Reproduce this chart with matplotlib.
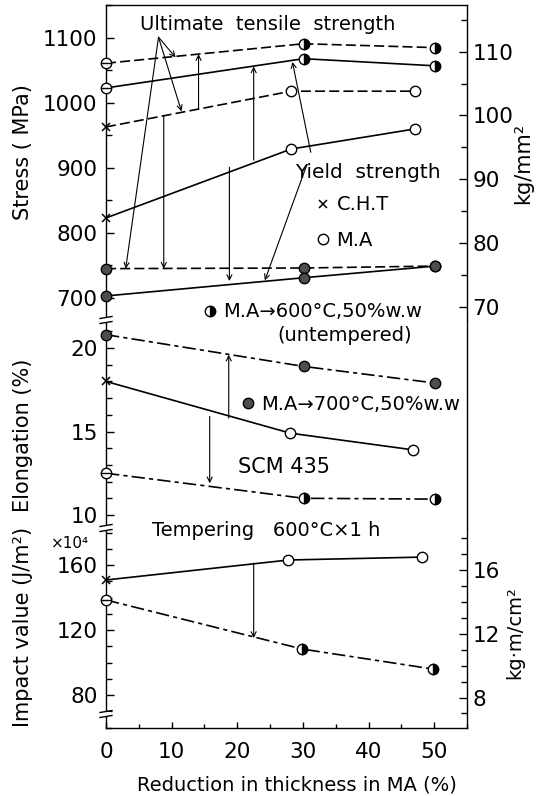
import matplotlib
matplotlib.use('Agg')
import matplotlib.pyplot as plt
from matplotlib.lines import Line2D
from matplotlib.patches import Rectangle
from matplotlib.ticker import MultipleLocator

KG = 9.80665  # MPa per kg/mm2, and 1e4 J/m2 per kg.m/cm2

# reduction in thickness (%) ; first point of every series is at 0 (C.H.T / base)
x_ma = [0, 28.2, 47.1]
x_ww = [0, 30.1, 50.2]

# stress (MPa)
uts_ma = [963, 1018, 1018]
ys_ma = [823, 929, 960]
uts_600 = [1061, 1091, 1085]
ys_600 = [1023, 1068, 1057]
uts_700 = [745, 746, 749]
ys_700 = [703, 731, 749]

# elongation (%)
x_el_ma = [0, 28.1, 46.8]
el_ma = [18.0, 14.9, 13.9]
el_700 = [20.8, 18.9, 17.9]
el_600 = [12.5, 11.0, 10.95]

# impact value (x1e4 J/m2)
x_imp_ma = [0, 27.8, 48.2]
imp_ma = [150.8, 163.1, 164.9]
x_imp_600 = [0, 29.9, 49.8]
imp_600 = [138.5, 108.3, 96.0]

W, H = 543, 796
fig = plt.figure(figsize=(W / 100, H / 100), dpi=100)


def fx(x):
    return x / W


def fy(y):
    return 1 - y / H


def box(l, t, r, b):
    return [fx(l), fy(b), (r - l) / W, (b - t) / H]


L, R = 106, 467
ax_s = fig.add_axes(box(L, 5, R, 320))
ax_e = fig.add_axes(box(L, 320, R, 528))
ax_i = fig.add_axes(box(L, 528, R, 728))

DASH = (0, (6, 2.5))
DASHDOT = (0, (8, 2.5, 2.5, 2.5))
MS = 7.5

marks = {
    'cht': dict(marker='x', ms=6, mew=1.1, mec='k'),
    'ma': dict(marker='o', ms=MS, mfc='white', mec='k', mew=1.0),
    'half': dict(marker='o', ms=MS, mfc='k', mfcalt='white', fillstyle='right', mec='k', mew=1.0),
    'full': dict(marker='o', ms=MS, mfc='#4d4d4d', mec='k', mew=1.0),
    'bar': dict(marker='o', ms=MS, mfc='white', mec='k', mew=1.0),
}


def draw_marks(ax, x, y, kind):
    ax.plot(x, y, ls='none', clip_on=False, zorder=4, **marks[kind])
    if kind == 'bar':
        ax.plot(x, y, ls='none', marker='_', ms=MS, mew=1.0, color='k', clip_on=False, zorder=5)


def series(ax, x, y, ls, first, rest):
    ax.plot(x, y, color='k', lw=1.2, ls=ls, zorder=3)
    draw_marks(ax, x[:1], y[:1], first)
    draw_marks(ax, x[1:], y[1:], rest)


# stress
series(ax_s, x_ww, uts_600, DASH, 'bar', 'half')
series(ax_s, x_ww, ys_600, '-', 'bar', 'half')
series(ax_s, x_ma, uts_ma, DASH, 'cht', 'ma')
series(ax_s, x_ma, ys_ma, '-', 'cht', 'ma')
series(ax_s, x_ww, uts_700, DASH, 'full', 'full')
series(ax_s, x_ww, ys_700, '-', 'full', 'full')

# elongation
series(ax_e, x_ww, el_700, DASHDOT, 'full', 'full')
series(ax_e, x_el_ma, el_ma, '-', 'cht', 'ma')
series(ax_e, x_ww, el_600, DASHDOT, 'bar', 'half')

# impact
series(ax_i, x_imp_ma, imp_ma, '-', 'cht', 'ma')
series(ax_i, x_imp_600, imp_600, DASHDOT, 'bar', 'half')

# axes limits / ticks
ax_s.set_ylim(666, 1150.6)
ax_e.set_ylim(9.22, 21.68)
ax_i.set_ylim(59.7, 182.8)

for ax in (ax_s, ax_e, ax_i):
    ax.set_xlim(0, 55)
    for sp in ax.spines.values():
        sp.set_linewidth(1.0)
    ax.tick_params(axis='y', which='both', direction='in', left=True, right=False,
                   labelsize=15.5, pad=6, width=1.0)
    ax.tick_params(axis='y', which='major', length=6)
    ax.tick_params(axis='y', which='minor', length=4.5)
    ax.tick_params(axis='x', which='both', direction='in', bottom=False, top=False,
                   labelbottom=False)

ax_s.spines['bottom'].set_visible(False)
ax_e.spines['top'].set_visible(False)
ax_e.spines['bottom'].set_visible(False)
ax_i.spines['top'].set_visible(False)

ax_s.yaxis.set_major_locator(MultipleLocator(100))
ax_s.yaxis.set_minor_locator(MultipleLocator(50))
ax_e.yaxis.set_major_locator(MultipleLocator(5))
ax_e.yaxis.set_minor_locator(MultipleLocator(1))
ax_i.yaxis.set_major_locator(MultipleLocator(40))
ax_i.yaxis.set_minor_locator(MultipleLocator(10))

ax_i.xaxis.set_major_locator(MultipleLocator(10))
ax_i.xaxis.set_minor_locator(MultipleLocator(5))
ax_i.tick_params(axis='x', which='both', bottom=True, labelbottom=True, labelsize=15.5, pad=10, width=1.0)
ax_i.tick_params(axis='x', which='major', length=4)
ax_i.tick_params(axis='x', which='minor', length=3)
ax_i.set_xticks([0, 10, 20, 30, 40, 50])

# right-hand unit axes
for ax, major, minor in ((ax_s, 10, 5), (ax_i, 4, 1)):
    tw = ax.twinx()
    lo, hi = ax.get_ylim()
    tw.set_ylim(lo / KG, hi / KG)
    tw.yaxis.set_major_locator(MultipleLocator(major))
    tw.yaxis.set_minor_locator(MultipleLocator(minor))
    tw.tick_params(axis='y', which='both', direction='in', labelsize=15.5, pad=4, width=1.0)
    tw.tick_params(axis='y', which='major', length=6)
    tw.tick_params(axis='y', which='minor', length=4.5)
    for sp in tw.spines.values():
        sp.set_visible(False)
    tw.set_xlim(0, 55)

# arrows
thin = dict(arrowstyle='->', lw=0.8, color='k', shrinkA=0, shrinkB=0, mutation_scale=9)
for ax, pairs in (
    (ax_s, [((14.1, 991), (14.1, 1075)), ((22.5, 912), (22.5, 1056)),
            ((8.8, 981), (8.8, 745)), ((18.8, 901), (18.8, 726)),
            ((8.0, 1101), (10.6, 1070)), ((8.0, 1101), (11.5, 987)),
            ((8.0, 1101), (3.0, 745)),
            ((31.2, 924), (28.4, 1063)), ((30.6, 905), (24.2, 727))]),
    (ax_e, [((18.7, 15.8), (18.7, 19.6)), ((15.8, 15.9), (15.8, 11.9))]),
    (ax_i, [((22.5, 161.2), (22.5, 115.1))]),
):
    for start, end in pairs:
        ax.annotate('', xy=end, xytext=start, arrowprops=thin, zorder=2)

# texts
fig.text(fx(268), fy(25), 'Ultimate  tensile  strength', fontsize=14, ha='center', va='center')
fig.text(fx(368), fy(172), 'Yield  strength', fontsize=14.5, ha='center', va='center')
fig.text(fx(345), fy(335), '(untempered)', fontsize=14, ha='center', va='center')
fig.text(fx(238), fy(467), 'SCM 435', fontsize=15, ha='left', va='center')
fig.text(fx(152), fy(531), 'Tempering   600°C×1 h', fontsize=14, ha='left', va='center')

fig.text(fx(23), fy(152), 'Stress ( MPa)', fontsize=15, rotation=90, ha='center', va='center')
fig.text(fx(23), fy(435), 'Elongation (%)', fontsize=15, rotation=90, ha='center', va='center')
fig.text(fx(23), fy(627), 'Impact value (J/m²)', fontsize=15, rotation=90, ha='center', va='center')
fig.text(fx(70), fy(543), '×10⁴', fontsize=11, ha='center', va='center')
fig.text(fx(523), fy(163), 'kg/mm²', fontsize=15, rotation=90, ha='center', va='center')
fig.text(fx(515), fy(633), 'kg·m/cm²', fontsize=14, rotation=90, ha='center', va='center')
fig.text(fx(297), fy(785), 'Reduction in thickness in MA (%)', fontsize=14, ha='center', va='center')


# legend keys
def key(kind, label, xp, yp):
    h = Line2D([], [], ls='none', **marks[kind])
    fig.legend(handles=[h], labels=[label], loc='center left',
               bbox_to_anchor=(fx(xp), fy(yp)), frameon=False, handlelength=0.8,
               handletextpad=0.3, borderpad=0, borderaxespad=0, fontsize=14)


key('cht', 'C.H.T', 315, 205)
key('ma', 'M.A', 315, 240)
key('half', 'M.A→600°C,50%w.w', 202, 312)
key('full', 'M.A→700°C,50%w.w', 240, 404)


# axis breaks on the left spine
def brk(yp):
    fig.add_artist(Rectangle((fx(L - 5), fy(yp + 2.5)), 10 / W, 5 / H,
                             transform=fig.transFigure, fc='white', ec='none', zorder=10))
    for d in (-2.5, 2.5):
        fig.add_artist(Line2D([fx(L - 6), fx(L + 6)], [fy(yp + d + 1), fy(yp + d - 1)],
                              transform=fig.transFigure, color='k', lw=1.0, zorder=11))


for yp in (320, 528, 714):
    brk(yp)

fig.savefig('out.png', dpi=100)
